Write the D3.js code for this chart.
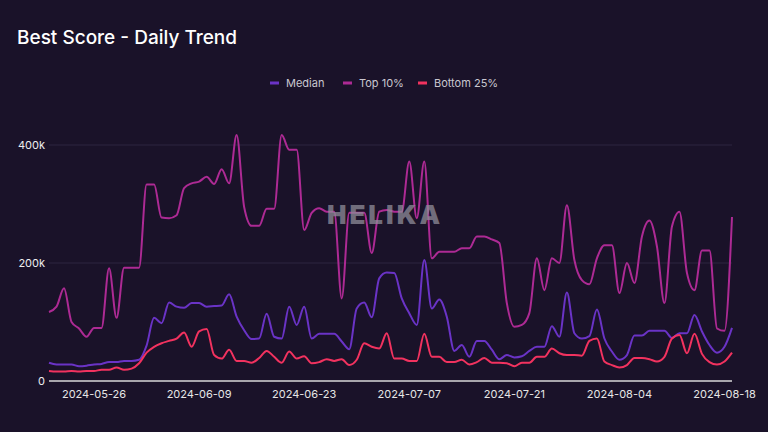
<!DOCTYPE html>
<html>
<head>
<meta charset="utf-8">
<script src="https://cdn.jsdelivr.net/npm/d3@7"></script>
<style>
  html, body { margin: 0; padding: 0; background: #1a1229; }
  svg { display: block; font-family: Inter, "DejaVu Sans", sans-serif; }
</style>
</head>
<body>
<svg id="chart" width="768" height="432"></svg>
<script>
// daily values, in thousands, starting 2024-05-20
const startDate = "2024-05-20";
const top10 = [117,126,157,100,89,75,90,90,191,107,
  192,192,192,333,333,277,276,281,327,335,
  338,346,334,359,335,417,295,263,263,292,
  292,417,392,392,256,285,293,287,287,140,
  285,285,285,217,287,290,287,287,372,276,
  372,208,219,219,219,225,225,245,245,240,
  234,132,92,95,115,208,154,208,200,298,
  205,171,164,208,230,230,149,200,166,245,
  272,228,132,262,287,183,154,221,221,89,
  85,278];
const median = [31,28,28,28,25,26,28,29,32,32,
  34,34,36,60,107,98,133,126,124,132,
  132,126,127,128,147,109,86,71,72,114,
  75,72,126,95,126,72,80,80,80,67,
  54,123,133,108,174,184,183,140,115,95,
  205,123,138,109,51,61,41,68,68,53,
  37,44,40,42,51,58,58,93,75,150,
  81,72,76,121,72,50,36,44,77,77,
  85,85,85,73,81,81,112,84,61,48,
  58,90];
const bottom25 = [17,16,16,17,16,17,17,19,19,23,
  19,21,30,48,58,64,68,72,82,58,
  84,88,44,38,53,34,34,31,39,51,
  41,31,50,38,42,30,32,37,34,37,
  27,36,64,58,55,81,38,38,34,34,
  80,41,41,32,32,36,28,32,39,31,
  31,30,25,31,31,41,41,55,47,44,
  44,43,68,72,33,27,23,27,39,39,
  37,33,41,72,78,47,80,46,32,28,
  33,48];
const xTickLabels = ["2024-05-26","2024-06-09","2024-06-23","2024-07-07","2024-07-21","2024-08-04","2024-08-18"];
const yTicks = [0, 200, 400];

const seriesNames = ["Median", "Top 10%", "Bottom 25%"];
const seriesColors = ["#6a33c6", "#ad2a94", "#f2325f"];

const svg = d3.select("#chart");
const width = 768, height = 432;
const margin = {top: 120, right: 36, bottom: 51, left: 49};

const parse = d3.utcParse("%Y-%m-%d");
const t0 = parse(startDate);
const dates = top10.map((d, i) => d3.utcDay.offset(t0, i));

const x = d3.scaleUtc()
    .domain([dates[0], dates[dates.length - 1]])
    .range([margin.left, width - margin.right]);
const y = d3.scaleLinear()
    .domain([0, 450])
    .range([height - margin.bottom, height - margin.bottom - 450 * 0.59]);

svg.append("rect").attr("width", width).attr("height", height).attr("fill", "#1a1229");

// title
svg.append("text")
    .attr("x", 17).attr("y", 44)
    .attr("fill", "#ffffff")
    .attr("font-size", 19).attr("font-weight", 500)
    .text("Best Score - Daily Trend");

// grid
svg.append("g")
  .selectAll("line")
  .data(yTicks.filter(d => d > 0))
  .join("line")
    .attr("x1", margin.left).attr("x2", width - margin.right)
    .attr("y1", d => y(d)).attr("y2", d => y(d))
    .attr("stroke", "#2c2440").attr("stroke-width", 1);

// y labels
svg.append("g")
  .selectAll("text")
  .data(yTicks)
  .join("text")
    .attr("x", 45).attr("y", d => y(d))
    .attr("dy", "0.35em")
    .attr("text-anchor", "end")
    .attr("fill", "#eeeeee").attr("font-size", 11)
    .text(d => d === 0 ? "0" : d + "k");

// lines
const line = d3.line()
    .x((d, i) => x(dates[i]))
    .y(d => y(d))
    .curve(d3.curveMonotoneX);

const allSeries = [median, top10, bottom25];
// draw top10 first, then median, then bottom on top
[1, 0, 2].forEach(k => {
  svg.append("path")
      .datum(allSeries[k])
      .attr("fill", "none")
      .attr("stroke", seriesColors[k])
      .attr("stroke-width", 2)
      .attr("d", line);
});

// watermark
svg.append("text")
    .attr("x", 385).attr("y", 224)
    .attr("text-anchor", "middle")
    .attr("fill", "#8f8c98").attr("fill-opacity", 0.75)
    .attr("font-size", 26).attr("font-weight", 900)
    .attr("letter-spacing", 3)
    .text("HELIKA");

// baseline
svg.append("line")
    .attr("x1", margin.left).attr("x2", width - margin.right)
    .attr("y1", y(0)).attr("y2", y(0))
    .attr("stroke", "#d8d8d8").attr("stroke-width", 1.5);

// x labels
svg.append("g")
  .selectAll("text")
  .data(xTickLabels)
  .join("text")
    .attr("x", d => x(parse(d)))
    .attr("y", 398)
    .attr("text-anchor", "middle")
    .attr("fill", "#e6e6e6").attr("font-size", 11)
    .text(d => d);

// legend
const legendX = [270, 343, 418];
const lg = svg.append("g")
  .selectAll("g")
  .data(seriesNames)
  .join("g")
    .attr("transform", (d, i) => `translate(${legendX[i]},83)`);
lg.append("line")
    .attr("x1", 0).attr("x2", 9)
    .attr("stroke", (d, i) => seriesColors[i])
    .attr("stroke-width", 3);
lg.append("text")
    .attr("x", 16).attr("dy", "0.35em")
    .attr("fill", "#c9c7d0").attr("font-size", 11)
    .text(d => d);
</script>
</body>
</html>
